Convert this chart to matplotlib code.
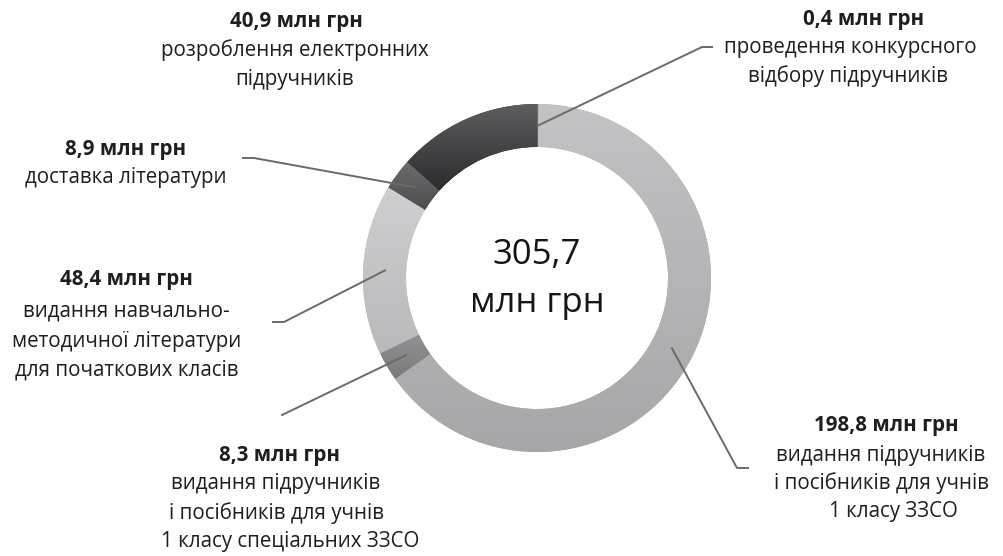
import numpy as np
import matplotlib
matplotlib.use("Agg")
import matplotlib.pyplot as plt
from matplotlib.lines import Line2D
from matplotlib.colors import LinearSegmentedColormap

plt.rcParams['font.family'] = ['Open Sans', 'Noto Sans', 'DejaVu Sans']

# ====== 數據 ======
values = [0.4, 198.8, 8.3, 48.4, 8.9, 40.9]
amounts = ['0,4 млн грн', '198,8 млн грн', '8,3 млн грн', '48,4 млн грн', '8,9 млн грн', '40,9 млн грн']
descriptions = [
    ['проведення конкурсного', 'відбору підручників'],
    ['видання підручників', 'і посібників для учнів', '1 класу ЗЗСО'],
    ['видання підручників', 'і посібників для учнів', '1 класу спеціальних ЗЗСО'],
    ['видання навчально-', 'методичної літератури', 'для початкових класів'],
    ['доставка літератури'],
    ['розроблення електронних', 'підручників'],
]
total_text = ['305,7', 'млн грн']
# 漸層顏色 (上, 下)
grad_colors = [('#727275', '#5f5f62'), ('#c3c3c6', '#a7a7aa'), ('#929295', '#7a7a7d'),
               ('#cecfd1', '#b9b9bc'), ('#6c6c6f', '#4d4d50'), ('#5e5e61', '#2b2b2d')]

# ====== 版面 (像素, 從上方量) ======
W, H = 1004, 556
cx, cy, R = 537, 278, 174
header_xy = [(864, 19), (886, 425), (280, 455), (126, 280), (126, 149), (296, 22)]
body_xy = [
    [(850, 48), (848, 76)],
    [(881, 455), (882, 483), (893, 511)],
    [(276, 484), (277, 513), (290, 541)],
    [(126, 311), (127, 341), (127, 370)],
    [(126, 177)],
    [(295, 50), (295, 79)],
]
# leader line: elbow point and end point
leader = [
    [(702, 47), (712, 47)],
    [(737, 468), (748, 468)],
    [(282, 415), (282, 415)],
    [(284, 322), (273, 322)],
    [(254, 158), (243, 158)],
    None,
]

fig = plt.figure(figsize=(W / 100, H / 100), dpi=100)
ax = fig.add_axes([(cx - R) / W, (H - cy - R) / H, 2 * R / W, 2 * R / H])
wedges, _ = ax.pie(values, colors=[c[1] for c in grad_colors], startangle=90, counterclock=False,
                   radius=1, wedgeprops=dict(width=0.247, linewidth=0))
ax.set_xlim(-1, 1)
ax.set_ylim(-1, 1)
ax.set_aspect('equal')
ax.axis('off')

# 每個扇形加上由上到下的漸層
grad = np.linspace(0, 1, 256).reshape(-1, 1)
for w, (top, bottom) in zip(wedges, grad_colors):
    ext = w.get_path().get_extents()
    cmap = LinearSegmentedColormap.from_list('g', [top, bottom])
    im = ax.imshow(grad, cmap=cmap, extent=(ext.x0, ext.x1, ext.y0, ext.y1),
                   origin='upper', aspect='auto', interpolation='bilinear', zorder=w.get_zorder())
    im.set_clip_path(w)
ax.set_xlim(-1, 1)
ax.set_ylim(-1, 1)

# 中央文字
ax.text(0, (cy - 255) / R, total_text[0], ha='center', va='center', fontsize=25, color='#151515')
ax.text(0, (cy - 303) / R, total_text[1], ha='center', va='center', fontsize=25, color='#151515')

def px(x, y):
    return x / W, (H - y) / H

for i, w in enumerate(wedges):
    fig.text(*px(*header_xy[i]), amounts[i], ha='center', va='center', fontsize=14.8,
             fontweight='bold', color='#1e1e1e')
    for line, pos in zip(descriptions[i], body_xy[i]):
        fig.text(*px(*pos), line, ha='center', va='center', fontsize=14.8, color='#1e1e1e')
    if leader[i] is None:
        continue
    ang = np.deg2rad((w.theta1 + w.theta2) / 2)
    ax_pt = ax.transData.transform((0.875 * np.cos(ang), 0.875 * np.sin(ang)))
    ax_fig = fig.transFigure.inverted().transform(ax_pt)
    pts = [tuple(ax_fig)] + [px(*p) for p in leader[i]]
    xs, ys = zip(*pts)
    fig.add_artist(Line2D(xs, ys, transform=fig.transFigure, color='#6a6a6a', linewidth=1.4))

fig.savefig('out.png', dpi=100)
